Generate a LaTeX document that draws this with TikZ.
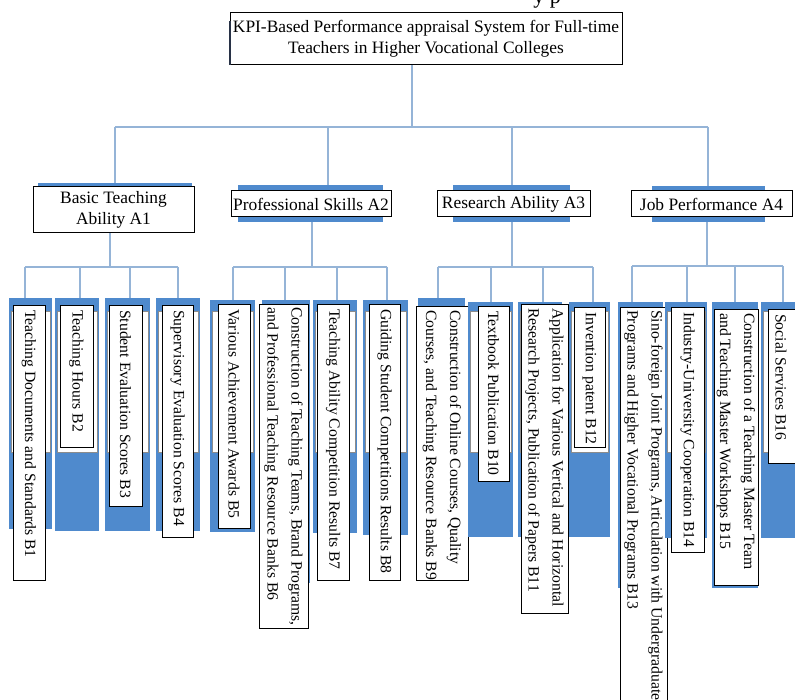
\documentclass[tikz,border=0pt]{standalone}
\usepackage{fontspec}
\setmainfont{Liberation Serif}
\definecolor{connblue}{RGB}{149,180,215}
\definecolor{shblue}{RGB}{79,138,205}
\definecolor{darkedge}{RGB}{40,50,70}
\tikzset{
  connector/.style={draw=connblue, line width=1.5pt},
  bluebg/.style={fill=shblue, draw=none, inner sep=0pt, outer sep=0pt},
  ghost/.style={fill=white, draw=black!45, line width=0.8pt, inner sep=0pt, outer sep=0pt},
  tbox/.style={fill=white, draw=black, line width=1pt, inner sep=0pt, outer sep=0pt},
  abox/.style={fill=white, draw=black, line width=1pt, inner sep=0pt, outer sep=0pt,
    align=center, font=\fontsize{17.4}{21.5}\selectfont},
  vtext/.style={rotate=-90, anchor=west, align=left, inner sep=0pt,
    font=\fontsize{15.7}{24}\selectfont},
}
% #1 name, #2 bx1, #3 by1, #4 bx2, #5 by2, #6 wx1, #7 wy1, #8 wx2, #9 wy2
\newcommand\itemB[9]{%
  \node[bluebg, anchor=north west, minimum width={#4pt-#2pt}, minimum height={#5pt-#3pt}] (#1bg) at (#2,#3) {};
  \node[ghost, anchor=north west, minimum width={#4pt-#2pt-4pt}, minimum height=141pt] (#1gh) at (#2+2,311) {};
  \node[tbox, anchor=north west, minimum width={#8pt-#6pt}, minimum height={#9pt-#7pt}] (#1) at (#6,#7) {};
}
\begin{document}
\begin{tikzpicture}[x=1pt,y=-1pt]
\useasboundingbox (0,0) rectangle (795,700);
\clip (0,0) rectangle (795,700);
\fill[white] (0,0) rectangle (795,700);

% fragment of text above
\node[font=\fontsize{22}{22}\selectfont, anchor=base, inner sep=0pt] (frag) at (547,4) {y p};

% title
\node[abox, anchor=north west, minimum width=392pt, minimum height=52pt] (title) at (230,13)
  {KPI-Based Performance appraisal System for Full-time\\Teachers in Higher Vocational Colleges};
\draw[darkedge, line width=2pt] ([yshift=-8pt]title.north west) -- (title.south west);

% level 2
\node[bluebg, anchor=north west, minimum width=154pt, minimum height=40pt] (a1bg) at (38,183) {};
\node[abox, anchor=north west, minimum width=161pt, minimum height=46pt] (a1) at (33,187) {Basic Teaching\\Ability A1};
\node[bluebg, anchor=north west, minimum width=145pt, minimum height=37pt] (a2bg) at (238,185) {};
\node[abox, anchor=north west, minimum width=160pt, minimum height=26pt] (a2) at (231,191) {Professional Skills A2};
\node[bluebg, anchor=north west, minimum width=117pt, minimum height=37pt] (a3bg) at (453,185) {};
\node[abox, anchor=north west, minimum width=153pt, minimum height=26pt] (a3) at (437,191) {Research Ability A3};
\node[bluebg, anchor=north west, minimum width=113pt, minimum height=36pt] (a4bg) at (652,186) {};
\node[abox, anchor=north west, minimum width=161pt, minimum height=26pt] (a4) at (631,191) {Job Performance A4};

% level 3 boxes
\itemB{b1}{9}{298}{52}{529}{13}{306}{45}{580}
\itemB{b2}{55}{298}{99}{531}{60}{306}{93}{447}
\itemB{b3}{105}{298}{150}{531}{109}{306}{142}{506}
\itemB{b4}{156}{298}{200}{531}{162}{306}{193}{537}
\itemB{b5}{210}{300}{255}{532}{218}{305}{250}{528}
\itemB{b6}{262}{300}{310}{583}{259}{305}{308}{628}
\itemB{b7}{313}{300}{357}{533}{317}{305}{349}{580}
\itemB{b8}{363}{300}{408}{535}{369}{305}{400}{580}
\itemB{b9}{418}{298}{465}{531}{416}{307}{468}{580}
\itemB{b10}{468}{302}{513}{537}{478}{307}{509}{481}
\itemB{b11}{518}{302}{562}{537}{521}{305}{568}{613}
\itemB{b12}{569}{302}{610}{537}{574}{308}{605}{447}
\itemB{b13}{618}{302}{663}{588}{620}{308}{667}{730}
\itemB{b14}{665}{302}{707}{538}{671}{308}{704}{552}
\itemB{b15}{712}{302}{758}{588}{714}{310}{758}{585}
\itemB{b16}{761}{302}{810}{538}{768}{310}{810}{463}

% level 3 texts
\node[vtext] (t1) at ([yshift=-4pt]b1.north) {Teaching Documents and Standards B1};
\node[vtext] (t2) at ([yshift=-4pt]b2.north) {Teaching Hours B2};
\node[vtext] (t3) at ([yshift=-4pt]b3.north) {Student Evaluation Scores B3};
\node[vtext] (t4) at ([yshift=-4pt]b4.north) {Supervisory Evaluation Scores B4};
\node[vtext] (t5) at ([yshift=-4pt]b5.north) {Various Achievement Awards B5};
\node[vtext] (t6) at ([yshift=-2pt]b6.north) {Construction of Teaching Teams, Brand Programs,\\and Professional Teaching Resource Banks B6};
\node[vtext] (t7) at ([yshift=-4pt]b7.north) {Teaching Ability Competition Results B7};
\node[vtext] (t8) at ([yshift=-4pt]b8.north) {Guiding Student Competitions Results B8};
\node[vtext] (t9) at ([yshift=-3pt]b9.north) {Construction of Online Courses, Quality\\Courses, and Teaching Resource Banks B9};
\node[vtext] (t10) at ([yshift=-4pt]b10.north) {Textbook Publication B10};
\node[vtext] (t11) at ([yshift=-3pt]b11.north) {Application for Various Vertical and Horizontal\\Research Projects, Publication of Papers B11};
\node[vtext] (t12) at ([yshift=-4pt]b12.north) {Invention patent B12};
\node[vtext] (t13) at ([yshift=-2pt]b13.north) {Sino-foreign Joint Programs, Articulation with Undergraduate\\Programs and Higher Vocational Programs B13};
\node[vtext] (t14) at ([yshift=-4pt]b14.north) {Industry-University Cooperation B14};
\node[vtext] (t15) at ([yshift=-3pt]b15.north) {Construction of a Teaching Master Team\\and Teaching Master Workshops B15};
\node[vtext] (t16) at ([xshift=-8pt,yshift=-4pt]b16.north) {Social Services B16};

% level 1 connectors
\coordinate (j0) at (412,127);
\coordinate (k1) at (115,127);
\coordinate (k2) at (328,127);
\coordinate (k3) at (512,127);
\coordinate (k4) at (708,127);
\draw[connector] (j0 |- title.south) -- (j0);
\draw[connector] (k1) -- (k4);
\draw[connector] (k1) -- (k1 |- a1bg.north);
\draw[connector] (k2) -- (k2 |- a2bg.north);
\draw[connector] (k3) -- (k3 |- a3bg.north);
\draw[connector] (k4) -- (k4 |- a4bg.north);

% level 2 connectors
\coordinate (h1) at (110,267);
\coordinate (h2) at (312,267);
\coordinate (h3) at (512,267);
\coordinate (h4) at (707,266);
\draw[connector] (h1 |- a1.south) -- (h1);
\draw[connector] (h2 |- a2bg.south) -- (h2);
\draw[connector] (h3 |- a3bg.south) -- (h3);
\draw[connector] (h4 |- a4bg.south) -- (h4);

\coordinate (d1) at (25,267);  \coordinate (d2) at (80,267);
\coordinate (d3) at (130,267); \coordinate (d4) at (178,267);
\coordinate (d5) at (233,267); \coordinate (d6) at (285,267);
\coordinate (d7) at (337,267); \coordinate (d8) at (387,267);
\coordinate (d9) at (438,267); \coordinate (d10) at (491,267);
\coordinate (d11) at (543,267); \coordinate (d12) at (593,267);
\coordinate (d13) at (632,266); \coordinate (d14) at (687,266);
\coordinate (d15) at (735,266); \coordinate (d16) at (783,266);
\draw[connector] (d1) -- (d4);
\draw[connector] (d5) -- (d8);
\draw[connector] (d9) -- (d12);
\draw[connector] (d13) -- (d16);
\foreach \i in {1,...,16}{
  \draw[connector] (d\i) -- (d\i |- b\i bg.north);
}
\end{tikzpicture}
\end{document}
